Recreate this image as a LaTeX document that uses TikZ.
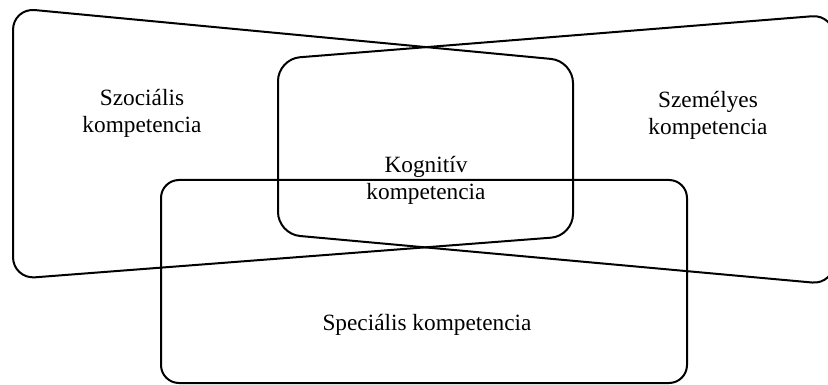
\documentclass[tikz,border=0pt]{standalone}
\usepackage{fontspec}
\setmainfont{Liberation Serif}
\tikzset{
  outline/.style={draw=black, line width=2pt, rounded corners=22pt, line join=round},
  lbl/.style={font=\fontsize{23.3}{27}\selectfont, align=center, anchor=base, inner sep=0pt}
}
\begin{document}
\begin{tikzpicture}[x=1pt, y=-1pt]
\clip (0,0) rectangle (828,385);
% Szociális trapezoid
\draw[outline] (13,150) -- (13,8) -- (573,61) -- (573,236) -- (13,279) -- cycle;
% Személyes trapezoid
\draw[outline] (834,150) -- (834,14.5) -- (278,59) -- (278,234) -- (834,284.5) -- cycle;
% Speciális box
\draw[outline, rounded corners=18pt] (161,180) rectangle (687,383);
% labels (anchor = baseline of the last line)
\node[lbl] (szoc) at (142,133) {Szociális\\kompetencia};
\node[lbl] (szem) at (708,135) {Személyes\\kompetencia};
\node[lbl] (kogn) at (426,200) {Kognitív\\kompetencia};
\node[lbl] (spec) at (427,330) {Speciális kompetencia};
\end{tikzpicture}
\end{document}
